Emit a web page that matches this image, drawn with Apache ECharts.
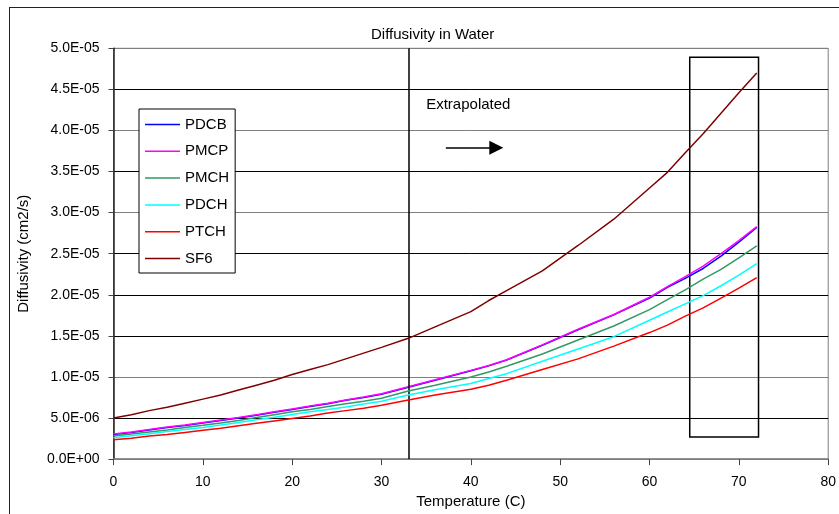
<!DOCTYPE html>
<html>
<head>
<meta charset="utf-8">
<title>Diffusivity in Water</title>
<script src="https://cdn.jsdelivr.net/npm/echarts@6/dist/echarts.min.js"></script>
<style>
  html, body { margin: 0; padding: 0; background: #fff; overflow: hidden; }
  #chart { width: 839px; height: 514px; }
  #frame {
    position: absolute; left: 9px; top: 7px; width: 900px; height: 600px;
    border: 1.5px solid #222; pointer-events: none;
  }
</style>
</head>
<body>
<div id="chart"></div>
<div id="frame"></div>
<script>
// Temperature (C) at which each diffusivity was evaluated
const temperatures = [0, 2, 4, 6, 8, 10, 12, 14, 16, 18, 20, 22, 24, 26, 28, 30, 33, 36, 40, 42, 44, 48, 52, 56, 60, 62, 64, 66, 68, 70, 72];

// Diffusivities in units of 1e-6 cm2/s
const pdcb = [3.0, 3.25, 3.55, 3.85, 4.1, 4.4, 4.7, 5.0, 5.35, 5.7, 6.05, 6.4, 6.75, 7.15, 7.5, 7.9, 8.75, 9.6, 10.75, 11.35, 12.05, 13.85, 15.75, 17.55, 19.6, 20.9, 22.0, 23.2, 24.7, 26.4, 28.2];
const pmcp = [3.05, 3.3, 3.6, 3.9, 4.15, 4.45, 4.75, 5.05, 5.4, 5.75, 6.1, 6.45, 6.8, 7.2, 7.55, 7.95, 8.8, 9.65, 10.8, 11.4, 12.1, 13.9, 15.8, 17.6, 19.7, 21.0, 22.2, 23.5, 25.0, 26.6, 28.3];
const pmch = [2.8, 3.05, 3.3, 3.55, 3.85, 4.12, 4.4, 4.7, 5.05, 5.4, 5.75, 6.05, 6.4, 6.75, 7.05, 7.4, 8.3, 9.0, 10.0, 10.6, 11.3, 12.8, 14.5, 16.2, 18.2, 19.4, 20.6, 21.9, 23.1, 24.5, 25.95];
const pdch = [2.6, 2.85, 3.1, 3.35, 3.6, 3.85, 4.15, 4.45, 4.8, 5.1, 5.42, 5.75, 6.05, 6.35, 6.7, 7.03, 7.8, 8.45, 9.2, 9.8, 10.4, 11.9, 13.4, 14.9, 16.9, 17.9, 18.9, 19.9, 21.1, 22.4, 23.8];
const ptch = [2.35, 2.55, 2.8, 3.0, 3.25, 3.5, 3.75, 4.05, 4.35, 4.65, 4.95, 5.25, 5.6, 5.9, 6.2, 6.55, 7.2, 7.8, 8.5, 9.0, 9.6, 10.9, 12.2, 13.75, 15.4, 16.3, 17.4, 18.4, 19.6, 20.8, 22.1];
const sf6  = [5.0, 5.4, 5.9, 6.3, 6.8, 7.3, 7.8, 8.4, 9.0, 9.6, 10.3, 10.9, 11.5, 12.2, 12.9, 13.6, 14.7, 16.1, 17.95, 19.3, 20.5, 22.9, 26.0, 29.2, 33.0, 34.9, 37.3, 39.6, 42.1, 44.6, 47.0];

const seriesNames = ['PDCB', 'PMCP', 'PMCH', 'PDCH', 'PTCH', 'SF6'];
const seriesValues = [pdcb, pmcp, pmch, pdch, ptch, sf6];
const seriesColors = ['#0000FF', '#FF00FF', '#339966', '#00FFFF', '#FF0000', '#800000'];
const UNIT = 1e-6;

// Annotations (data coordinates)
const extrapolationStart = 33;             // vertical divider
const highlightBox = [[64.5, 2.7e-6], [72.2, 4.89e-5]];
const arrowFrom = [37.2, 3.79e-5];
const arrowTo = [42.85, 3.79e-5];
const noteAt = [35.0, 4.31e-5];
const noteText = 'Extrapolated';

const FONT = '"Liberation Sans", Arial, sans-serif';

function sci(v) {
  if (Math.abs(v) < 1e-15) return '0.0E+00';
  let e = Math.floor(Math.log10(Math.abs(v)) + 1e-9);
  let m = v / Math.pow(10, e);
  m = Math.round(m * 10) / 10;
  if (m >= 10) { m = m / 10; e += 1; }
  const sign = e < 0 ? '-' : '+';
  const ae = Math.abs(e);
  return m.toFixed(1) + 'E' + sign + (ae < 10 ? '0' + ae : String(ae));
}

const chart = echarts.init(document.getElementById('chart'), null, { renderer: 'canvas' });

const series = seriesNames.map((name, i) => ({
  name: name,
  type: 'line',
  symbol: 'none',
  showSymbol: false,
  smooth: false,
  z: 3 + i,
  lineStyle: { color: seriesColors[i], width: 1.5 },
  itemStyle: { color: seriesColors[i] },
  data: temperatures.map((t, k) => [t, seriesValues[i][k] * UNIT])
}));

// Divider, arrow, note and highlighted region
series.push({
  name: 'annotations',
  type: 'line',
  data: [],
  silent: true,
  z: 10,
  markLine: {
    silent: true,
    symbol: ['none', 'none'],
    label: { show: false },
    lineStyle: { color: '#000', width: 1.5, type: 'solid' },
    data: [
      { xAxis: extrapolationStart },
      [
        { coord: arrowFrom, symbol: 'none' },
        { coord: arrowTo, symbol: 'triangle', symbolSize: 14 }
      ]
    ],
    animation: false
  },
  markArea: {
    silent: true,
    itemStyle: { color: 'rgba(0,0,0,0)', borderColor: '#000', borderWidth: 1.5 },
    data: [[{ coord: highlightBox[0] }, { coord: highlightBox[1] }]]
  },
  markPoint: {
    silent: true,
    symbol: 'rect',
    symbolSize: 0,
    label: {
      show: true, position: 'right', distance: 0,
      formatter: noteText, color: '#000', fontSize: 15, fontFamily: FONT
    },
    data: [{ coord: noteAt }]
  }
});

const gridColors = ['#7f7f7f', '#000', '#7f7f7f', '#000', '#000', '#000', '#7f7f7f', '#000', '#7f7f7f', '#000', '#7f7f7f'];

chart.setOption({
  animation: false,
  backgroundColor: '#fff',
  textStyle: { fontFamily: FONT },
  title: {
    text: 'Diffusivity in Water',
    left: 366, top: 22,
    textStyle: { fontSize: 15, fontWeight: 'normal', color: '#000', fontFamily: FONT }
  },
  grid: {
    left: 113.5, right: 9.7, top: 48.3, bottom: 53.3,
    show: true, borderColor: '#7f7f7f', borderWidth: 1, backgroundColor: '#fff'
  },
  legend: {
    data: seriesNames,
    orient: 'vertical',
    left: 139, top: 109,
    padding: [8, 6, 7, 6],
    icon: 'rect',
    itemWidth: 35, itemHeight: 1.5, itemGap: 11.8,
    backgroundColor: '#fff', borderColor: '#000', borderWidth: 1,
    textStyle: { fontSize: 15, lineHeight: 14, color: '#000', fontFamily: FONT }
  },
  xAxis: {
    type: 'value',
    min: 0, max: 80, interval: 10,
    name: 'Temperature (C)',
    nameLocation: 'middle', nameGap: 32,
    nameTextStyle: { fontSize: 15, color: '#000', fontFamily: FONT },
    axisLine: { show: true, lineStyle: { color: '#7f7f7f', width: 1.5 } },
    axisTick: { show: true, inside: false, length: 6, lineStyle: { color: '#444' } },
    axisLabel: { fontSize: 14, color: '#000', margin: 16, fontFamily: FONT },
    splitLine: { show: false }
  },
  yAxis: {
    type: 'value',
    min: 0, max: 5e-5, interval: 5e-6,
    name: 'Diffusivity (cm2/s)',
    nameLocation: 'middle', nameGap: 82,
    nameTextStyle: { fontSize: 15, color: '#000', fontFamily: FONT },
    axisLine: { show: true, lineStyle: { color: '#222', width: 1.5 } },
    axisTick: { show: true, inside: false, length: 5, lineStyle: { color: '#444' } },
    axisLabel: { fontSize: 14, color: '#000', margin: 14, fontFamily: FONT, formatter: sci },
    splitLine: { show: true, lineStyle: { color: gridColors, width: 1 } }
  },
  tooltip: { show: false },
  series: series
});
</script>
</body>
</html>
